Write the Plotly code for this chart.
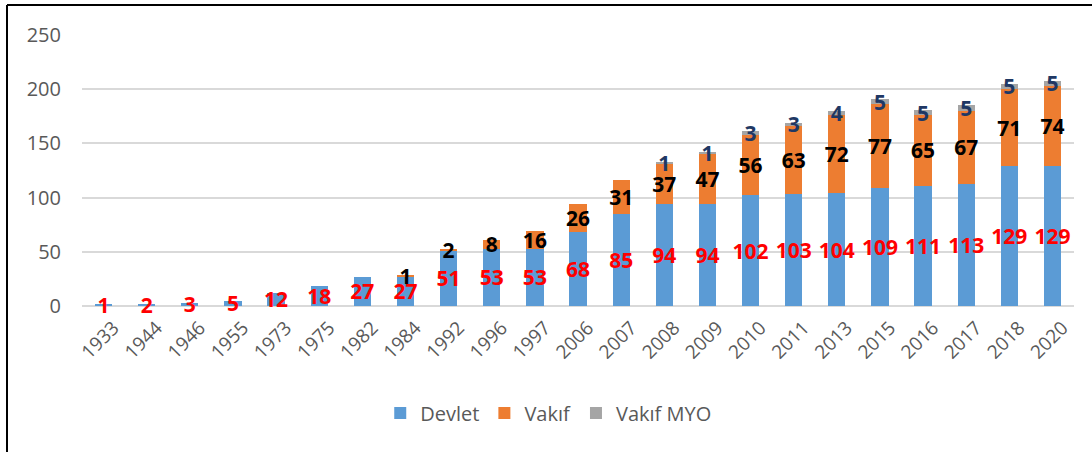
import plotly.graph_objects as go

years = ["1933", "1944", "1946", "1955", "1973", "1975", "1982", "1984", "1992", "1996",
         "1997", "2006", "2007", "2008", "2009", "2010", "2011", "2013", "2015", "2016",
         "2017", "2018", "2020"]
devlet = [1, 2, 3, 5, 12, 18, 27, 27, 51, 53, 53, 68, 85, 94, 94, 102, 103, 104, 109, 111, 113, 129, 129]
vakif = [0, 0, 0, 0, 0, 0, 0, 1, 2, 8, 16, 26, 31, 37, 47, 56, 63, 72, 77, 65, 67, 71, 74]
vakif_myo = [0, 0, 0, 0, 0, 0, 0, 0, 0, 0, 0, 0, 0, 1, 1, 3, 3, 4, 5, 5, 5, 5, 5]
y_ticks = [0, 50, 100, 150, 200, 250]


def labels(vals):
    return [str(v) if v else "" for v in vals]


series = [
    ("Devlet", devlet, "#5B9BD5", "#FF0000"),
    ("Vakıf", vakif, "#ED7D31", "#000000"),
    ("Vakıf MYO", vakif_myo, "#A5A5A5", "#1F3864"),
]

fig = go.Figure()
for name, vals, color, tcolor in series:
    fig.add_trace(go.Bar(
        x=years, y=vals, name=name,
        marker=dict(color=color, line=dict(width=0)),
        text=labels(vals), textposition="inside", insidetextanchor="middle",
        textangle=0, constraintext="none", cliponaxis=False,
        textfont=dict(family="Open Sans", size=21, color=tcolor, weight="bold"),
        hoverinfo="x+y+name",
    ))

W, H = 1092, 452
L, R, T, B = 82, 18, 35, 146
pw, ph = W - L - R, H - T - B


def px(x):
    return (x - L) / pw


def py(y):
    return (H - B - y) / ph


fig.update_layout(
    barmode="stack",
    bargap=0.6,
    width=W, height=H,
    margin=dict(l=L, r=R, t=T, b=B, autoexpand=False),
    paper_bgcolor="white", plot_bgcolor="white",
    font=dict(family="Open Sans", color="#595959"),
    showlegend=True,
    legend=dict(orientation="h", x=0.47, xanchor="center", y=py(413), yanchor="middle",
                font=dict(size=20, color="#595959"), itemwidth=30,
                traceorder="normal"),
    xaxis=dict(type="category", tickangle=-45, tickfont=dict(size=19, color="#595959"),
               showgrid=False, showline=False, ticks="", automargin=False,
               ticklabelshift=10, ticklabelstandoff=6),
    yaxis=dict(range=[0, 250], tickvals=y_ticks, tickfont=dict(size=20, color="#595959"),
               showgrid=True, gridcolor="#D9D9D9", gridwidth=1.5, zeroline=True,
               zerolinecolor="#D9D9D9", zerolinewidth=1.5, showline=False, ticks="",
               ticklen=0, ticklabelstandoff=20, automargin=False),
    shapes=[
        dict(type="line", xref="paper", yref="paper", x0=px(7), x1=px(W + 5), y0=py(5), y1=py(5),
             line=dict(color="black", width=2)),
        dict(type="line", xref="paper", yref="paper", x0=px(7), x1=px(7), y0=py(5), y1=py(H + 5),
             line=dict(color="black", width=2)),
    ],
)

fig.write_html("out.html", config={"displayModeBar": False},
               post_script="document.body.style.margin='0';document.body.style.overflow='hidden';")
